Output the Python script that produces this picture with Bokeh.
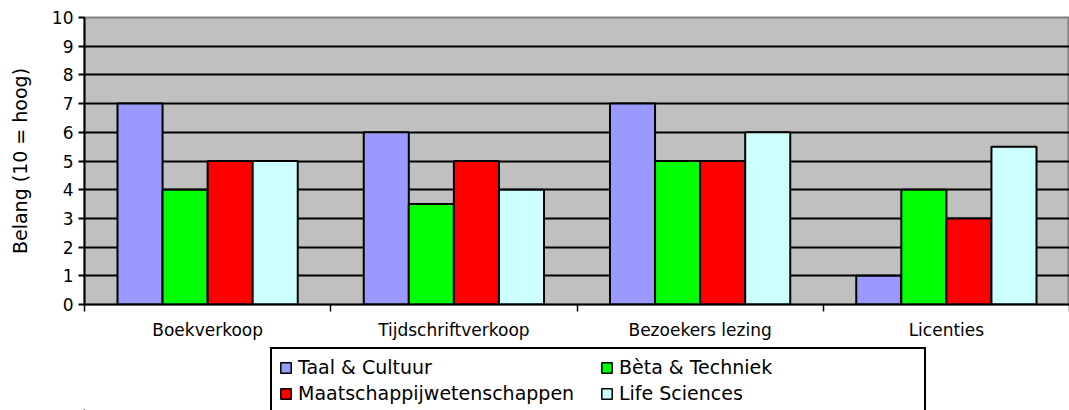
from bokeh.plotting import figure
from bokeh.layouts import column
from bokeh.models import (ColumnDataSource, Range1d, FixedTicker, Legend, LegendItem)
from bokeh.transform import dodge
from bokeh.embed import file_html
from bokeh.resources import INLINE

categories = ["Boekverkoop", "Tijdschriftverkoop", "Bezoekers lezing", "Licenties"]
series_names = ["Taal & Cultuur", "Bèta & Techniek", "Maatschappijwetenschappen", "Life Sciences"]
taal = [7, 6, 7, 1]
beta = [4, 3.5, 5, 4]
maatschappij = [5, 5, 5, 3]
life = [5, 4, 6, 5.5]
colors = ["#9999FF", "#00FF00", "#FF0000", "#CCFFFF"]
y_ticks = list(range(0, 11))

FONT = "DejaVu Sans"
centers = [i + 0.5 for i in range(len(categories))]
src = ColumnDataSource(dict(x=centers, taal=taal, beta=beta, maat=maatschappij, life=life))
fields = ["taal", "beta", "maat", "life"]

p = figure(width=1069, height=345, output_backend="svg", toolbar_location=None,
           x_range=Range1d(0, 4), y_range=Range1d(0, 10),
           min_border_left=84, min_border_right=0, min_border_top=17, min_border_bottom=41)
p.background_fill_color = "#C0C0C0"
p.border_fill_color = "white"
p.outline_line_color = "#808080"
p.outline_line_width = 2

bw = 0.183
offsets = [-1.5 * bw, -0.5 * bw, 0.5 * bw, 1.5 * bw]
for f, off, c in zip(fields, offsets, colors):
    p.vbar(x=dodge("x", off, range=p.x_range), top=f, width=bw, bottom=0, source=src,
           fill_color=c, line_color="black", line_width=2)

# grid
p.xgrid.visible = False
p.ygrid.ticker = FixedTicker(ticks=y_ticks[1:-1])
p.ygrid.grid_line_color = "black"
p.ygrid.grid_line_width = 2

# y axis
ya = p.yaxis[0]
ya.ticker = FixedTicker(ticks=y_ticks)
ya.axis_line_color = "black"
ya.axis_line_width = 2
ya.major_tick_out = 6
ya.major_tick_in = 0
ya.major_tick_line_width = 2
ya.minor_tick_line_color = None
ya.major_label_text_font = FONT
ya.major_label_text_font_size = "17px"
ya.major_label_text_color = "black"
ya.major_label_standoff = 5
ya.axis_label = "Belang (10 = hoog)"
ya.axis_label_text_font = FONT
ya.axis_label_text_font_size = "19px"
ya.axis_label_text_font_style = "normal"
ya.axis_label_text_color = "black"
ya.axis_label_standoff = 18

# x axis
xa = p.xaxis[0]
xa.ticker = FixedTicker(ticks=centers, minor_ticks=list(range(len(categories) + 1)))
xa.major_label_overrides = {c: name for c, name in zip(centers, categories)}
xa.axis_line_color = "black"
xa.axis_line_width = 2
xa.major_tick_line_color = None
xa.major_tick_out = 0
xa.major_tick_in = 0
xa.minor_tick_out = 7
xa.minor_tick_in = 0
xa.minor_tick_line_color = "black"
xa.minor_tick_line_width = 1.5
xa.major_label_text_font = FONT
xa.major_label_text_font_size = "17px"
xa.major_label_text_color = "black"
xa.major_label_standoff = 8

# legend figure (its bars lie outside its visible ranges; only the legend shows)
p2 = figure(width=1069, height=65, output_backend="svg", toolbar_location=None,
            x_range=Range1d(1000, 2069), y_range=Range1d(1000, 1065),
            x_axis_location=None, y_axis_location=None, min_border=0)
p2.outline_line_color = None
p2.background_fill_color = "white"
p2.grid.visible = False
leg_renderers = []
for f, c in zip(fields, colors):
    leg_renderers.append(p2.vbar(x="x", top=f, width=0.2, source=src, fill_color=c,
                                 line_color="black", line_width=1.5))
items = [LegendItem(label=series_names[i], renderers=[leg_renderers[i]]) for i in [0, 2, 1, 3]]
legend = Legend(items=items, location=(186, -3), orientation="vertical", ncols=2,
                border_line_color="black", border_line_width=2, border_line_alpha=1.0,
                background_fill_color="white", background_fill_alpha=1.0,
                label_text_font=FONT, label_text_font_size="19px",
                label_text_color="black", glyph_width=13, glyph_height=13, label_standoff=6,
                label_width=298, label_height=20, spacing=4, padding=7, margin=0)
p2.add_layout(legend, "center")

layout = column(p, p2, spacing=0)
open("out.html", "w").write(file_html(layout, INLINE))
